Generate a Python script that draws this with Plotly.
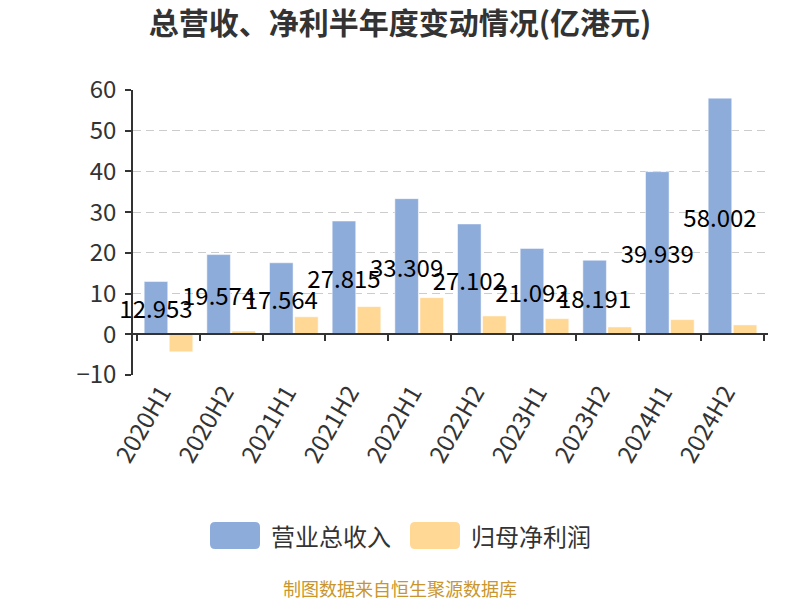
import plotly.graph_objects as go

categories = ["2020H1", "2020H2", "2021H1", "2021H2", "2022H1",
              "2022H2", "2023H1", "2023H2", "2024H1", "2024H2"]
revenue = [12.953, 19.574, 17.564, 27.815, 33.309,
           27.102, 21.092, 18.191, 39.939, 58.002]
net_profit = [-4.3, 0.8, 4.3, 6.8, 9.0, 4.5, 3.85, 1.8, 3.6, 2.3]
y_ticks = [-10, 0, 10, 20, 30, 40, 50, 60]
series_names = ["营业总收入", "归母净利润"]

FONT = "Noto Sans CJK SC, Noto Sans, sans-serif"
BLUE = "rgb(142,172,218)"
ORANGE = "rgb(255,216,150)"

# plot area geometry (pixels)
L, R, T, B = 133, 32, 90, 225
W, H = 800, 600
PW, PH = W - L - R, H - T - B


def px_x(p):
    return (p - L) / PW


def px_y(p):
    return (H - B - p) / PH


def rounded_rect(x0, y0, x1, y1, r=5):
    # pixel coords -> paper path with rounded corners
    X0, X1 = px_x(x0), px_x(x1)
    Y0, Y1 = px_y(y0), px_y(y1)  # Y0 top, Y1 bottom
    rx, ry = r / PW, r / PH
    return (f"M {X0+rx},{Y0} L {X1-rx},{Y0} Q {X1},{Y0} {X1},{Y0-ry} "
            f"L {X1},{Y1+ry} Q {X1},{Y1} {X1-rx},{Y1} L {X0+rx},{Y1} "
            f"Q {X0},{Y1} {X0},{Y1+ry} L {X0},{Y0-ry} Q {X0},{Y0} {X0+rx},{Y0} Z")


fig = go.Figure()
fig.add_trace(go.Bar(
    x=categories, y=revenue, name=series_names[0],
    marker=dict(color=BLUE, line=dict(color="rgba(255,255,255,0.5)", width=1)),
    text=[f"{v:.3f}" for v in revenue], textposition="inside",
    insidetextanchor="middle", constraintext="none", textangle=0,
    insidetextfont=dict(color="#000000", size=24, family=FONT),
    cliponaxis=False, showlegend=False,
))
fig.add_trace(go.Bar(
    x=categories, y=net_profit, name=series_names[1],
    marker=dict(color=ORANGE, line=dict(color="rgba(255,255,255,0.5)", width=1)),
    showlegend=False,
))
# invisible helper trace so the zero-level category axis renders
fig.add_trace(go.Scatter(x=categories, y=[0] * len(categories), xaxis="x2",
                         mode="markers", marker=dict(opacity=0), showlegend=False,
                         hoverinfo="skip"))

shapes = [
    dict(type="path", xref="paper", yref="paper",
         path=rounded_rect(210, 522, 260, 549), fillcolor=BLUE, line=dict(width=0)),
    dict(type="path", xref="paper", yref="paper",
         path=rounded_rect(410, 522, 460, 549), fillcolor=ORANGE, line=dict(width=0)),
]
annotations = [
    dict(text=series_names[0], xref="paper", yref="paper", x=px_x(269), y=px_y(535),
         xanchor="left", yanchor="middle", showarrow=False,
         font=dict(size=24, color="#333333", family=FONT)),
    dict(text=series_names[1], xref="paper", yref="paper", x=px_x(469), y=px_y(535),
         xanchor="left", yanchor="middle", showarrow=False,
         font=dict(size=24, color="#333333", family=FONT)),
    dict(text="制图数据来自恒生聚源数据库", xref="paper", yref="paper",
         x=px_x(400), y=px_y(588), xanchor="center", yanchor="middle",
         showarrow=False, font=dict(size=18, color="#c9962d", family=FONT)),
]

fig.update_layout(
    width=W, height=H,
    paper_bgcolor="white", plot_bgcolor="white",
    margin=dict(l=L, r=R, t=T, b=B, autoexpand=False),
    font=dict(family=FONT, color="#333333"),
    title=dict(text="<b>总营收、净利半年度变动情况(亿港元)</b>",
               x=0.5, xanchor="center", y=1 - 23 / H, yanchor="middle",
               font=dict(size=30, color="#333333", family=FONT)),
    bargap=0.2, bargroupgap=0.06,
    showlegend=False,
    xaxis=dict(type="category", showline=False, ticks="", tickangle=-60,
               ticklabelshift=-7, ticklabelstandoff=-2,
               tickfont=dict(size=24, color="#333333", family=FONT),
               showgrid=False, zeroline=False, automargin=False),
    xaxis2=dict(type="category", overlaying="x", matches="x", anchor="free",
                position=1 / 7, side="bottom", showline=True, linecolor="#333333",
                linewidth=1.5, ticks="outside", tickson="boundaries", ticklen=6,
                tickwidth=1.5, tickcolor="#333333", showticklabels=False,
                showgrid=False, zeroline=False, automargin=False),
    yaxis=dict(range=[-10, 60], tickvals=y_ticks, showline=True, linecolor="#333333",
               linewidth=1.5, ticks="outside", ticklen=6, tickwidth=1.5,
               tickcolor="#333333", ticklabelstandoff=4,
               tickfont=dict(size=24, color="#333333", family=FONT),
               showgrid=True, gridcolor="#cccccc", griddash="8px,5px", gridwidth=1.2,
               zeroline=False, automargin=False),
    shapes=shapes,
    annotations=annotations,
)

fig.write_html("out.html",
               config={"displayModeBar": False},
               post_script="document.body.style.margin='0';"
                           "document.body.style.overflow='hidden';")
